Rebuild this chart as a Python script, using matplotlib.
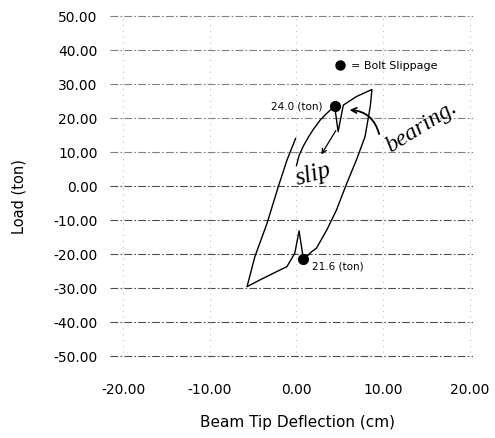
import numpy as np
import matplotlib
matplotlib.use("Agg")
import matplotlib.pyplot as plt
from matplotlib.patches import FancyArrowPatch

# load-deflection loop
deflection = [0.0, 0.3, 0.8, 1.4, 1.9, 2.7, 3.5, 4.4,
              4.8, 5.4, 6.9, 8.7,
              8.5, 7.9, 6.9, 5.8, 4.6, 3.5, 2.3, 1.75, 1.36, 0.8,
              0.3, -0.2, -1.1, -2.7, -4.2, -5.7,
              -4.8, -3.4, -2.1, -1.1, -0.1]
load = [6.0, 9.0, 11.8, 14.5, 16.5, 19.3, 21.4, 23.5,
        16.0, 23.8, 26.3, 28.4,
        23.3, 14.5, 7.6, 0.8, -7.1, -12.9, -18.3, -19.3, -20.3, -21.6,
        -13.2, -19.8, -23.7, -25.7, -27.6, -29.6,
        -20.8, -11.0, -0.2, 7.6, 14.0]

# bolt slippage points
slip_x = [4.4, 0.8]
slip_y = [23.5, -21.6]
slip_labels = ["24.0 (ton)", "21.6 (ton)"]

x_ticks = [-20, -10, 0, 10, 20]
y_ticks = [-50, -40, -30, -20, -10, 0, 10, 20, 30, 40, 50]

fig = plt.figure(figsize=(4.95, 4.38), dpi=100)
ax = fig.add_axes([0.2222, 0.1833, 0.7325, 0.784])

ax.set_xlim(-21.5, 20.3)
ax.set_ylim(-50.5, 50.5)
ax.set_xticks(x_ticks)
ax.set_yticks(y_ticks)
ax.set_xticklabels(["%.2f" % v for v in x_ticks])
ax.set_yticklabels(["%.2f" % v for v in y_ticks])
ax.tick_params(axis="both", length=0, labelsize=10)
ax.tick_params(axis="y", pad=9)
ax.tick_params(axis="x", pad=18)
for s in ax.spines.values():
    s.set_visible(False)

# scanned-looking grid, lighter at the top
for v in y_ticks:
    shade = "0.5" if v > 0 else "0.3"
    ax.axhline(v, color=shade, lw=0.8, ls=(0, (7, 2, 1.5, 2)), zorder=1)
for v in x_ticks:
    ax.axvline(v, color="0.7", lw=0.7, ls=(0, (1, 5)), zorder=1)

ax.plot(deflection, load, color="black", lw=1.0, zorder=3)
ax.plot(slip_x, slip_y, "o", color="black", ms=7, zorder=4)

ax.text(slip_x[0] - 1.35, slip_y[0], slip_labels[0], ha="right", va="center",
        fontsize=7.5)
ax.text(slip_x[1] + 0.95, slip_y[1] - 2.2, slip_labels[1], ha="left", va="center",
        fontsize=7.5)

# legend entry
ax.plot([5.0], [35.6], "o", color="black", ms=6.5)
ax.text(6.3, 35.4, "= Bolt Slippage", ha="left", va="center", fontsize=8)

# handwritten notes
ax.text(2.0, 3.2, "slip", fontsize=18, family="Liberation Serif", style="italic",
        rotation=15, ha="center", va="center")
ax.text(14.4, 17.4, "bearing.", fontsize=17, family="Liberation Serif",
        style="italic", rotation=32, ha="center", va="center")
ax.add_patch(FancyArrowPatch((4.7, 17.0), (2.7, 8.6), arrowstyle="->",
                             mutation_scale=8, lw=0.9, color="black"))
ax.add_patch(FancyArrowPatch((9.6, 14.5), (5.8, 22.4), arrowstyle="->",
                             connectionstyle="arc3,rad=0.4",
                             mutation_scale=9, lw=1.3, color="black"))

ax.text(-0.251, 0.468, "Load (ton)", transform=ax.transAxes, rotation=90,
        ha="center", va="center", fontsize=10.5)
ax.text(0.518, -0.19, "Beam Tip Deflection (cm)", transform=ax.transAxes,
        ha="center", va="center", fontsize=11)

fig.savefig("out.png", dpi=100)
